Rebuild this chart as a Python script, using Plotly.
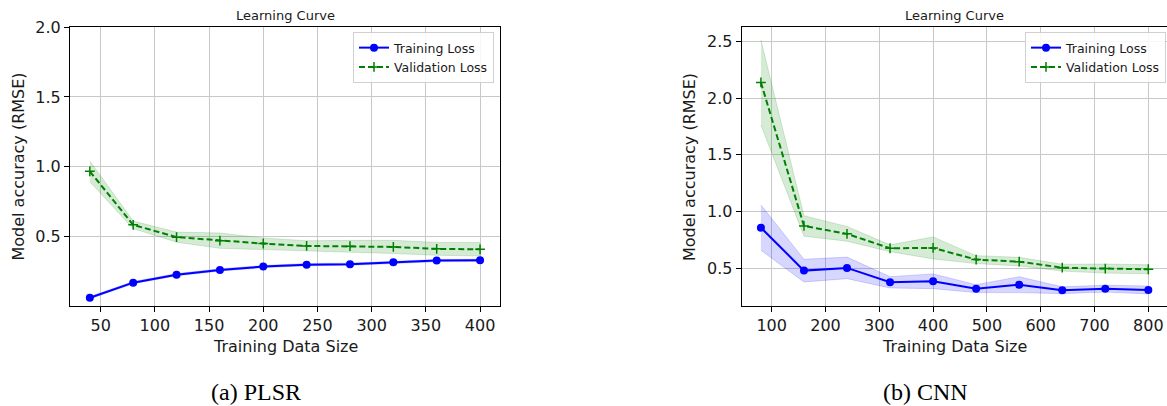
import plotly.graph_objects as go

# ---- data -----------------------------------------------------------------
plsr_sizes = [40, 80, 120, 160, 200, 240, 280, 320, 360, 400]
plsr_train_mean = [0.062, 0.170, 0.227, 0.261, 0.285, 0.299, 0.302, 0.316, 0.328, 0.330]
plsr_train_std = [0.008, 0.008, 0.008, 0.008, 0.008, 0.008, 0.008, 0.008, 0.008, 0.008]
plsr_val_mean = [0.967, 0.584, 0.496, 0.471, 0.450, 0.433, 0.431, 0.426, 0.412, 0.409]
plsr_val_std = [0.075, 0.027, 0.036, 0.055, 0.040, 0.037, 0.042, 0.047, 0.046, 0.048]

cnn_sizes = [80, 160, 240, 320, 400, 480, 560, 640, 720, 800]
cnn_train_mean = [0.858, 0.479, 0.503, 0.376, 0.385, 0.320, 0.355, 0.306, 0.320, 0.308]
cnn_train_std = [0.200, 0.100, 0.095, 0.050, 0.065, 0.035, 0.070, 0.030, 0.030, 0.035]
cnn_val_mean = [2.138, 0.873, 0.803, 0.676, 0.679, 0.576, 0.558, 0.505, 0.497, 0.491]
cnn_val_std = [0.375, 0.090, 0.065, 0.030, 0.097, 0.035, 0.038, 0.030, 0.040, 0.040]

panel_titles = ["Learning Curve", "Learning Curve"]
captions = ["(a) PLSR", "(b) CNN"]
x_label = "Training Data Size"
y_label = "Model accuracy (RMSE)"

# ---- layout helpers ---------------------------------------------------------
W, H = 1167, 406


def px_x(p):
    return p / W


def px_y(p):
    return 1 - p / H


BLUE = "#0000ff"
GREEN = "#008000"
BLUE_FILL = "rgba(0,0,255,0.16)"
GREEN_FILL = "rgba(0,128,0,0.16)"

fig = go.Figure()


def add_band(x, mean, std, fill, xa, ya):
    upper = [m + s for m, s in zip(mean, std)]
    lower = [m - s for m, s in zip(mean, std)]
    fig.add_trace(go.Scatter(
        x=list(x) + list(x)[::-1], y=upper + lower[::-1],
        fill="toself", fillcolor=fill, line=dict(color=fill, width=1),
        mode="lines", hoverinfo="skip", showlegend=False,
        xaxis=xa, yaxis=ya))


def add_panel(x, tr_m, tr_s, va_m, va_s, xa, ya, legend):
    add_band(x, tr_m, tr_s, BLUE_FILL, xa, ya)
    add_band(x, va_m, va_s, GREEN_FILL, xa, ya)
    fig.add_trace(go.Scatter(
        x=x, y=tr_m, mode="lines+markers", name="Training Loss",
        line=dict(color=BLUE, width=2),
        marker=dict(symbol="circle", size=8, color=BLUE),
        xaxis=xa, yaxis=ya, legend=legend))
    fig.add_trace(go.Scatter(
        x=x, y=va_m, mode="lines+markers", name="Validation Loss",
        line=dict(color=GREEN, width=2, dash="6px,3px"),
        marker=dict(symbol="cross-thin", size=7,
                    line=dict(color=GREEN, width=1.5)),
        xaxis=xa, yaxis=ya, legend=legend))


add_panel(plsr_sizes, plsr_train_mean, plsr_train_std,
          plsr_val_mean, plsr_val_std, "x", "y", "legend")
add_panel(cnn_sizes, cnn_train_mean, cnn_train_std,
          cnn_val_mean, cnn_val_std, "x2", "y2", "legend2")

# plot-area geometry in pixels
L_LEFT, L_RIGHT = 70, 500
R_LEFT, R_RIGHT = 741.7, 1167
TOP, BOTTOM = 27, 306

axis_common = dict(
    showline=True, mirror=True, linecolor="black", linewidth=1,
    ticks="outside", ticklen=5, tickwidth=1, tickcolor="black",
    showgrid=True, gridcolor="#c8c8c8", gridwidth=1.3,
    zeroline=False, tickfont=dict(family="DejaVu Sans", size=16, color="#1a1a1a"),
)

legend_common = dict(
    yanchor="top", xanchor="right",
    bgcolor="rgba(255,255,255,0.85)", bordercolor="#d0d0d0",
    borderwidth=1, font=dict(size=12.5, color="#1a1a1a"),
    tracegroupgap=0, itemwidth=30,
)

fig.update_layout(
    width=W, height=H,
    margin=dict(l=0, r=0, t=0, b=0, autoexpand=False),
    paper_bgcolor="white", plot_bgcolor="white",
    font=dict(family="DejaVu Sans", color="black"),
    xaxis=dict(domain=[px_x(L_LEFT), px_x(L_RIGHT)], range=[21.7, 418.4],
               tickvals=[50, 100, 150, 200, 250, 300, 350, 400],
               anchor="y", **axis_common),
    yaxis=dict(domain=[px_y(BOTTOM), px_y(TOP)], range=[0.003, 2.0005],
               tickvals=[0.5, 1.0, 1.5, 2.0], ticktext=["0.5", "1.0", "1.5", "2.0"],
               anchor="x", **axis_common),
    xaxis2=dict(domain=[px_x(R_LEFT), 1.0], range=[44.3, 834.7],
                tickvals=[100, 200, 300, 400, 500, 600, 700, 800],
                anchor="y2", **axis_common),
    yaxis2=dict(domain=[px_y(BOTTOM), px_y(TOP)], range=[0.167, 2.627],
                tickvals=[0.5, 1.0, 1.5, 2.0, 2.5],
                ticktext=["0.5", "1.0", "1.5", "2.0", "2.5"],
                anchor="x2", **axis_common),
    legend=dict(x=px_x(494), y=px_y(32), **legend_common),
    legend2=dict(x=px_x(1166), y=px_y(32), **legend_common),
    showlegend=True,
)

annotations = []
panels = [((L_LEFT + L_RIGHT) / 2, 17.5, 256), ((R_LEFT + 1167.7) / 2, 689, 925)]
text_common = dict(xref="paper", yref="paper", showarrow=False,
                   xanchor="center", yanchor="middle")
for i, (cx, ylab_x, cap_x) in enumerate(panels):
    annotations.append(dict(text=panel_titles[i], x=px_x(cx), y=px_y(15),
                            font=dict(size=13, color="#1a1a1a"), **text_common))
    annotations.append(dict(text=x_label, x=px_x(cx), y=px_y(346.5),
                            font=dict(size=16, color="#1a1a1a"), **text_common))
    annotations.append(dict(text=y_label, x=px_x(ylab_x), y=px_y(167),
                            textangle=-90, font=dict(size=16, color="#1a1a1a"),
                            **text_common))
    annotations.append(dict(text=captions[i], x=px_x(cap_x), y=px_y(392),
                            font=dict(family="Liberation Serif", size=24,
                                      color="black"), **text_common))
fig.update_layout(annotations=annotations)

fig.write_html("out.html")
